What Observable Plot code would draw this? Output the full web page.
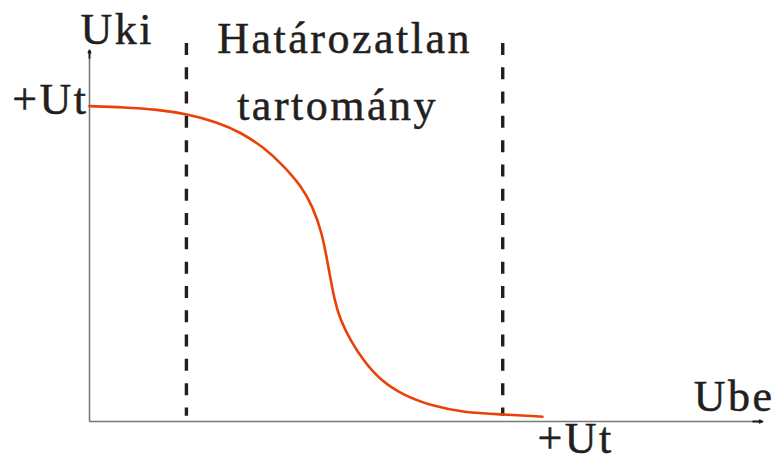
<!DOCTYPE html>
<html>
<head>
<meta charset="utf-8">
<script src="https://cdn.jsdelivr.net/npm/d3@7"></script>
<script src="https://cdn.jsdelivr.net/npm/@observablehq/plot@0.6"></script>
<style>
  html, body { margin: 0; padding: 0; background: #fff; }
</style>
</head>
<body>
<div id="chart"></div>
<script>
// Transfer characteristic (input voltage Ube vs output voltage Uki)
const ube = [0, 5.05, 10.1, 14.4, 19.0, 22.4, 25.9, 28.8, 31.4, 33.1, 34.6, 35.5, 36.4, 37.3, 38.8, 40.7, 43.2, 46.7, 50.7, 55.6, 61.5, 67.3];
const uki = [85.0, 84.7, 84.1, 82.9, 80.7, 78.0, 73.9, 69.0, 63.6, 58.2, 50.7, 41.5, 32.6, 27.2, 21.8, 16.4, 11.1, 7.0, 4.3, 2.4, 1.9, 1.3];
const ut = 85;              // +Ut level
const axisMax = 100;        // end of the drawn axes
const boundaries = [14.4, 61.4];   // limits of the undetermined region
const boundaryTop = 101.9;
const boundaryBottom = 1.4;
const regionLabel = ["Határozatlan", "tartomány"];
const xLabel = "Ube";
const yLabel = "Uki";
const utLabel = "+Ut";

const curve = ube.map((x, i) => ({x, y: uki[i]}));
const ink = "#231f20";
const font = "Liberation Serif";
const fs = 44;
const midRegion = (boundaries[0] + boundaries[1]) / 2;
const textStyle = {fontFamily: font, fontSize: fs, fill: ink, stroke: ink, strokeWidth: 0.5};

const chart = Plot.plot({
  width: 777,
  height: 461,
  marginLeft: 89,
  marginRight: 15,
  marginTop: 50,
  marginBottom: 40,
  x: {domain: [0, axisMax], axis: null},
  y: {domain: [0, axisMax], axis: null},
  style: {background: "#fff", letterSpacing: "2.5px"},
  marks: [
    // axes
    Plot.ruleY([0], {x1: 0, x2: axisMax, stroke: "#7a7a7a", strokeWidth: 1.6}),
    Plot.ruleX([0], {y1: 0, y2: axisMax, stroke: "#7a7a7a", strokeWidth: 1.6}),
    Plot.arrow([0], {x1: axisMax - 1.4, y1: 0, x2: axisMax, y2: 0, headLength: 13, headAngle: 45, stroke: ink, strokeWidth: 1.8}),
    Plot.arrow([0], {x1: 0, y1: axisMax - 2, x2: 0, y2: axisMax, headLength: 11, headAngle: 50, stroke: ink, strokeWidth: 1.8}),
    // dashed boundaries
    Plot.ruleX(boundaries, {x: d => d, y1: boundaryTop, y2: boundaryBottom, stroke: ink, strokeWidth: 3.4, strokeDasharray: "12,12.3"}),
    // characteristic curve
    Plot.line(curve, {x: "x", y: "y", curve: "basis", stroke: "#ea4108", strokeWidth: 2.6}),
    // labels
    Plot.text([yLabel], {...textStyle, text: d => d, x: 0, y: axisMax, textAnchor: "start", lineAnchor: "bottom", dx: -9, dy: -7}),
    Plot.text([xLabel], {...textStyle, text: d => d, x: axisMax, y: 0, textAnchor: "end", lineAnchor: "bottom", dx: 12, dy: -11}),
    Plot.text([utLabel], {...textStyle, text: d => d, x: 0, y: ut, textAnchor: "end", lineAnchor: "bottom", dx: -1, dy: 8}),
    Plot.text([utLabel], {...textStyle, text: d => d, x: ube[ube.length - 1], y: 0, textAnchor: "start", lineAnchor: "bottom", dx: -5, dy: 31}),
    Plot.text([regionLabel[0]], {...textStyle, text: d => d, x: midRegion, y: axisMax, textAnchor: "middle", lineAnchor: "bottom", dx: 0, dy: 2}),
    Plot.text([regionLabel[1]], {...textStyle, text: d => d, x: midRegion, y: ut, textAnchor: "middle", lineAnchor: "bottom", dx: -7, dy: 14})
  ]
});
document.getElementById("chart").appendChild(chart);
</script>
</body>
</html>
